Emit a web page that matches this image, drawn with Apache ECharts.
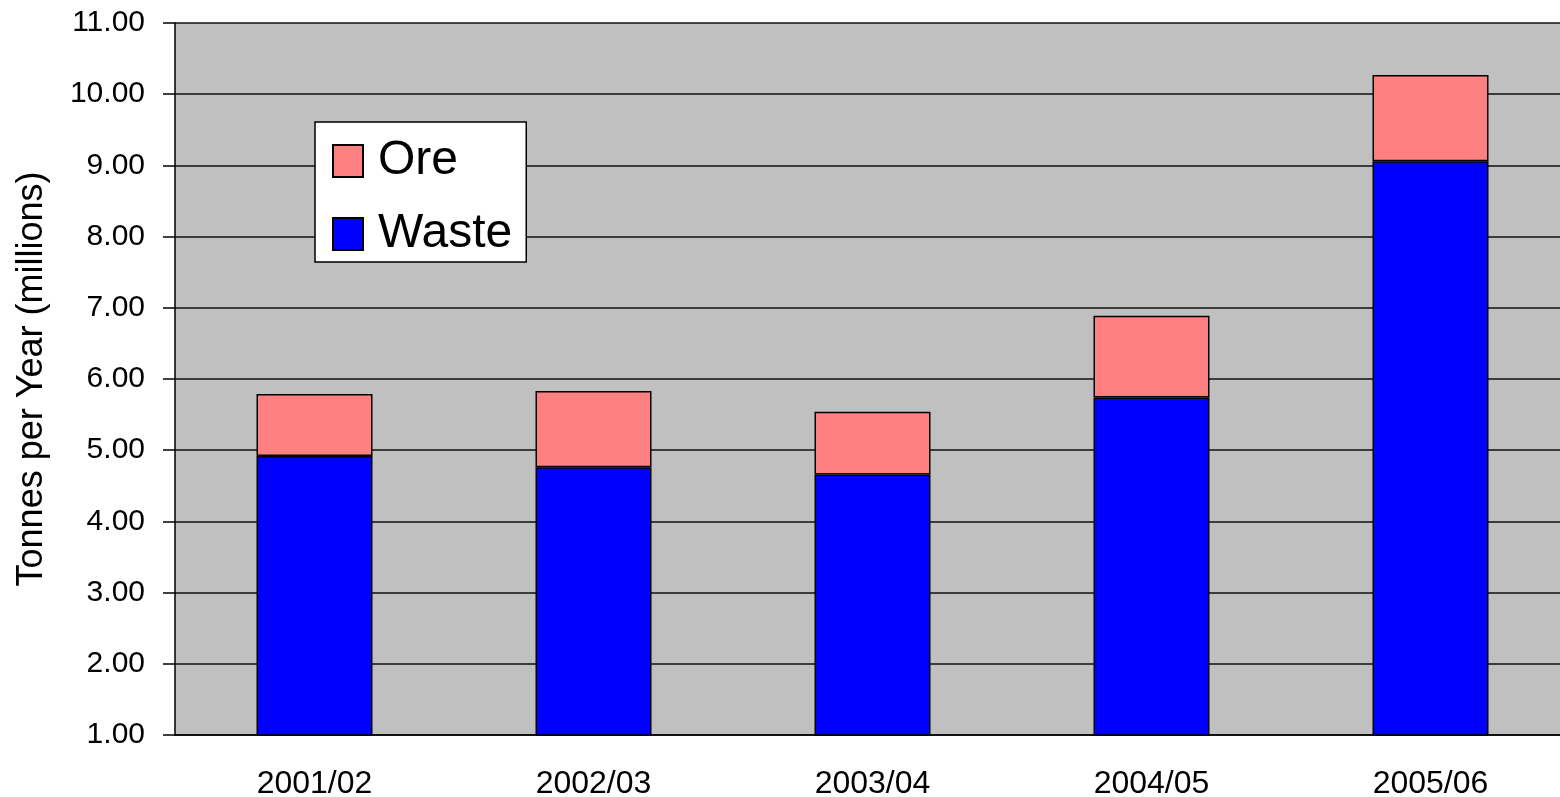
<!DOCTYPE html>
<html>
<head>
<meta charset="utf-8">
<script src="https://cdn.jsdelivr.net/npm/echarts@6/dist/echarts.min.js"></script>
<style>
  html, body { margin: 0; padding: 0; background: #fff; }
  #main { width: 1560px; height: 797px; }
</style>
</head>
<body>
<div id="main"></div>
<script>
// values in millions of tonnes
let years = ['2001/02', '2002/03', '2003/04', '2004/05', '2005/06'];
let waste = [4.92, 4.76, 4.66, 5.74, 9.06];
let ore = [0.87, 1.07, 0.88, 1.15, 1.21];

window.addEventListener('load', function () {
    let chart = echarts.init(document.getElementById('main'));
    let font = 'Liberation Sans, Arial, sans-serif';

    let option = {
        animation: false,
        textStyle: { fontFamily: font, color: '#000' },
        grid: {
            left: 175,
            top: 23,
            width: 1395,
            height: 712,
            outerBoundsMode: 'none',
            containLabel: false,
            show: true,
            backgroundColor: '#c0c0c0',
            borderWidth: 0
        },
        legend: {
            data: ['Ore', 'Waste'],
            orient: 'vertical',
            left: 315,
            top: 122,
            backgroundColor: '#fff',
            borderColor: '#000',
            borderWidth: 1.5,
            padding: [15, 14, 4, 17],
            icon: 'rect',
            itemWidth: 30,
            itemHeight: 32,
            itemGap: 25,
            textStyle: {
                fontFamily: font,
                fontSize: 48,
                color: '#000',
                padding: [0, 0, 0, 10]
            }
        },
        xAxis: {
            type: 'category',
            data: years,
            axisLine: { lineStyle: { color: '#000', width: 1.5 } },
            axisTick: { length: 10, lineStyle: { color: '#000', width: 1.5 } },
            axisLabel: { fontSize: 32, color: '#000', margin: 33 }
        },
        yAxis: {
            type: 'value',
            min: 1,
            max: 11,
            interval: 1,
            name: 'Tonnes per Year (millions)',
            nameLocation: 'middle',
            nameGap: 125,
            nameTextStyle: { fontSize: 36, color: '#000' },
            axisLine: { show: true, lineStyle: { color: '#000', width: 1.5 } },
            axisTick: { show: true, length: 12, lineStyle: { color: '#000', width: 1.5 } },
            axisLabel: {
                fontSize: 30,
                color: '#000',
                margin: 30,
                formatter: function (v) { return v.toFixed(2); }
            },
            splitLine: { lineStyle: { color: '#111', width: 1.5 } }
        },
        series: [
            {
                name: 'Waste',
                type: 'bar',
                stack: 'total',
                barWidth: 116,
                data: waste,
                itemStyle: { color: '#0000ff', borderColor: '#000', borderWidth: 1.5 }
            },
            {
                name: 'Ore',
                type: 'bar',
                stack: 'total',
                barWidth: 116,
                data: ore,
                itemStyle: { color: '#ff8080', borderColor: '#000', borderWidth: 1.5 }
            }
        ]
    };
    chart.setOption(option);
}, false);
</script>
</body>
</html>
